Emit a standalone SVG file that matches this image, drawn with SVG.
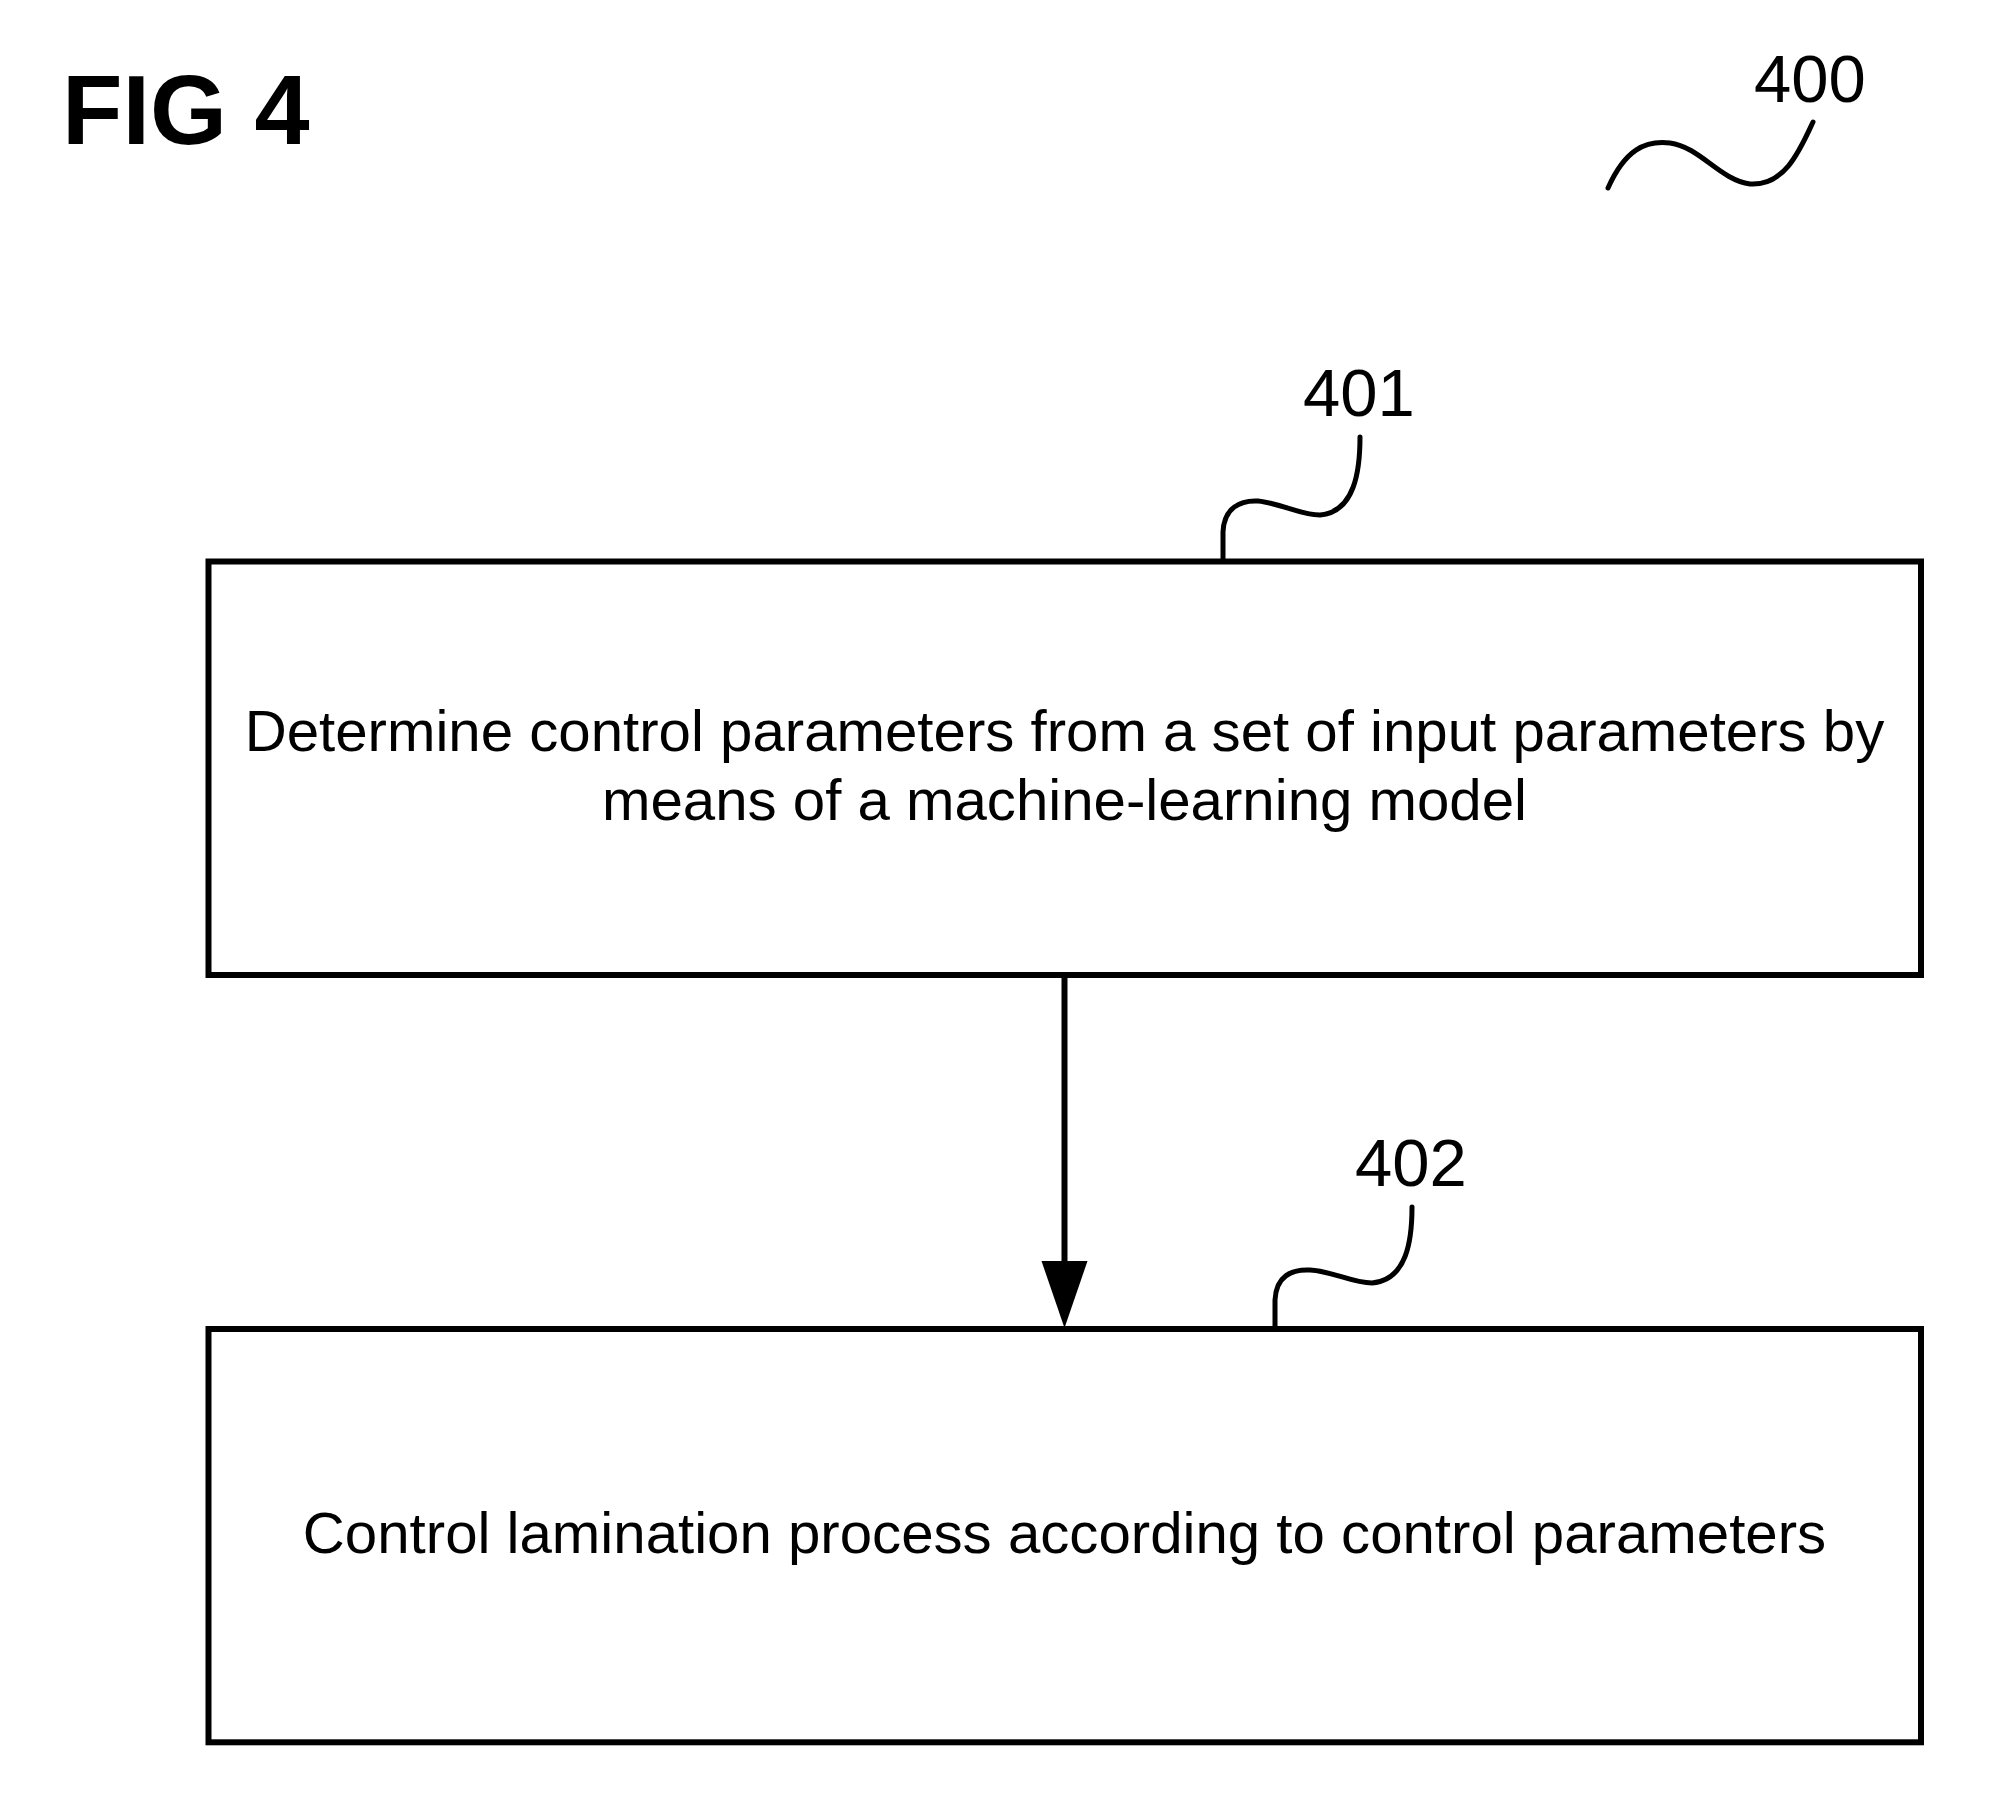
<svg xmlns="http://www.w3.org/2000/svg" width="2000" height="1820" viewBox="0 0 2000 1820">
<style>
.box{fill:#fff;stroke:#000;stroke-width:6}
.lead{fill:none;stroke:#000;stroke-width:5;stroke-linecap:round}
.t{font-family:"Liberation Sans",Arial,sans-serif;font-size:58.2px;fill:#000;text-anchor:middle}
.ref{font-family:"Liberation Sans",Arial,sans-serif;font-size:67px;fill:#000}
.fig{font-family:"Liberation Sans",Arial,sans-serif;font-size:99px;font-weight:bold;fill:#000}
</style>
<rect width="2000" height="1820" fill="#fff"/>
<text class="fig" x="62" y="144">FIG 4</text>
<g id="ref400">
<text class="ref" x="1754" y="102">400</text>
<path class="lead" d="M1608,188 C1625,150 1645,140 1670,143 C1700,147 1720,180 1750,184 C1785,186 1800,150 1813,122"/>
</g>
<g id="node401">
<rect class="box" x="208.5" y="561.5" width="1712.5" height="413.5"/>
<text class="t" x="1064.5" y="751">Determine control parameters from a set of input parameters by</text>
<text class="t" x="1064.5" y="820">means of a machine-learning model</text>
<text class="ref" x="1303" y="416">401</text>
<path class="lead" d="M1223,558 L1223,532 C1224,508 1240,500 1258,501 C1280,503 1300,515 1320,515 C1355,512 1360,470 1360,437"/>
</g>
<g id="node402">
<rect class="box" x="208.5" y="1329" width="1712.5" height="413.3"/>
<text class="t" x="1064.5" y="1553">Control lamination process according to control parameters</text>
<text class="ref" x="1355" y="1186">402</text>
<path class="lead" d="M1275,1326 L1275,1300 C1276,1276 1292,1269 1310,1270 C1332,1271 1352,1283 1372,1283 C1407,1280 1412,1240 1412,1207"/>
</g>
<g id="connectors">
<line x1="1064.5" y1="975" x2="1064.5" y2="1262" stroke="#000" stroke-width="6"/>
<path d="M1041.5,1261 L1087.5,1261 L1064.5,1328 Z" fill="#000"/>
</g>
</svg>
